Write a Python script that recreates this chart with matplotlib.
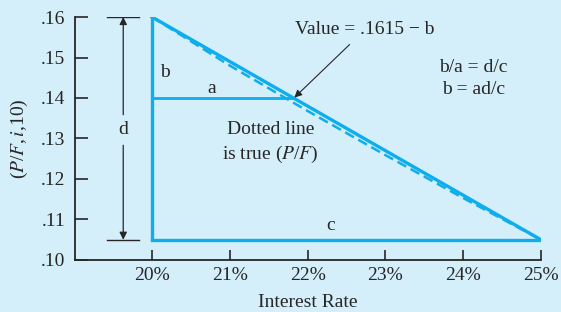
import matplotlib
matplotlib.use("Agg")
import matplotlib.pyplot as plt

# values
rates = [20, 25]
chord = [0.160, 0.105]
true_rates = [20, 21, 22, 23, 24, 25]
true_pf = [0.160, 0.1480, 0.1368, 0.1259, 0.1153, 0.105]
a_level = 0.140
a_end = 21.82
c_level = 0.105
x_ticks = [20, 21, 22, 23, 24, 25]
x_labels = ["20%", "21%", "22%", "23%", "24%", "25%"]
y_ticks = [0.10, 0.11, 0.12, 0.13, 0.14, 0.15, 0.16]
y_labels = [".10", ".11", ".12", ".13", ".14", ".15", ".16"]

BG = "#d4eefa"
BLUE = "#0eaeed"
INK = "#262626"

matplotlib.rcParams["font.family"] = ["Liberation Serif", "DejaVu Serif"]
matplotlib.rcParams["mathtext.fontset"] = "stix"
matplotlib.rcParams["font.size"] = 14

fig = plt.figure(figsize=(5.61, 3.12), dpi=100, facecolor=BG)
ax = fig.add_axes([0.1337, 0.1667, 0.8306, 0.7788])
ax.set_facecolor(BG)

# triangle
ax.plot([rates[0], rates[0]], [c_level, chord[0]], color=BLUE, lw=2.4,
        solid_capstyle="butt")
ax.plot([rates[0], rates[1]], [c_level, c_level], color=BLUE, lw=2.4)
ax.plot(rates, chord, color=BLUE, lw=2.4, solid_joinstyle="miter")
ax.plot([rates[0], a_end], [a_level, a_level], color=BLUE, lw=2.0)
ax.plot(true_rates, true_pf, color=BLUE, lw=1.8, ls=(0, (4, 2)))

# d dimension arrow
d_x = 19.63
for yy in [chord[0], c_level]:
    ax.plot([19.42, 19.83], [yy, yy], color=INK, lw=1.0)
ax.annotate("", xy=(d_x, chord[0]), xytext=(d_x, 0.1321),
            arrowprops=dict(arrowstyle="-|>", color=INK, lw=0.9,
                            mutation_scale=11, shrinkA=11, shrinkB=0))
ax.annotate("", xy=(d_x, c_level), xytext=(d_x, 0.1321),
            arrowprops=dict(arrowstyle="-|>", color=INK, lw=0.9,
                            mutation_scale=11, shrinkA=11, shrinkB=0))
ax.text(d_x, 0.1321, "d", ha="center", va="center", color=INK)

# labels
ax.text(20.16, 0.1464, "b", ha="center", va="center", color=INK)
ax.text(20.77, 0.1424, "a", ha="center", va="center", color=INK)
ax.text(22.30, 0.1085, "c", ha="center", va="center", color=INK)
ax.text(22.73, 0.1570, "Value = .1615 \u2212 b", ha="center", va="center",
        color=INK)
ax.annotate("", xy=(21.83, 0.1401), xytext=(22.54, 0.1532),
            arrowprops=dict(arrowstyle="-|>", color=INK, lw=0.8,
                            mutation_scale=11, shrinkA=0, shrinkB=0))
ax.text(24.13, 0.1475, "b/a = d/c", ha="center", va="center", color=INK)
ax.text(24.13, 0.1421, "b = ad/c", ha="center", va="center", color=INK)
ax.text(21.52, 0.1321, "Dotted line", ha="center", va="center", color=INK)
ax.text(21.52, 0.1260, "is true ($P$/$F$)", ha="center", va="center",
        color=INK)

ax.set_xlim(19.01, 25)
ax.set_ylim(0.10, 0.16)
ax.set_xticks(x_ticks)
ax.set_xticklabels(x_labels)
ax.set_yticks(y_ticks)
ax.set_yticklabels(y_labels)
ax.tick_params(axis="both", direction="in", color=INK, labelcolor=INK,
               width=1.2)
ax.tick_params(axis="y", length=9, pad=7)
ax.tick_params(axis="x", length=7, pad=5)
for side in ["top", "right"]:
    ax.spines[side].set_visible(False)
for side in ["left", "bottom"]:
    ax.spines[side].set_color(INK)
    ax.spines[side].set_linewidth(1.3)

ax.set_xlabel("Interest Rate", color=INK, labelpad=7)
ax.set_ylabel("($P$/$F$,$\\,i$,10)", color=INK, labelpad=8)

fig.savefig("out.png", dpi=100, facecolor=BG)
